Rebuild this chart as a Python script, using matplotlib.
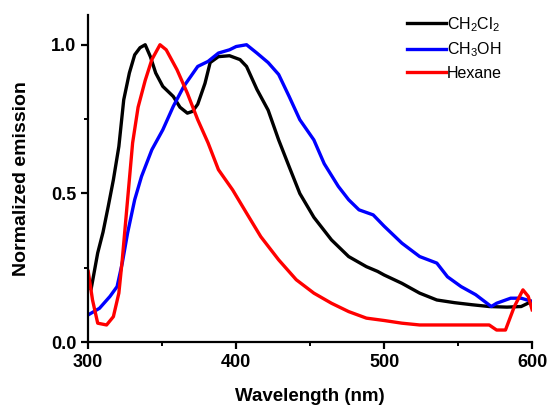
import numpy as np
import matplotlib.pyplot as plt

plt.rcParams['font.family'] = ['Liberation Sans', 'DejaVu Sans']
plt.rcParams['mathtext.default'] = 'regular'

# CH2Cl2
x_dcm = [302, 306.4, 310, 313.5, 317, 320.7, 324, 327.8, 331.4, 335, 338.5, 342, 345.6, 350.4,
         357.5, 362, 367, 370.5, 374, 378.9, 382.4, 388, 395.5, 402.6, 407, 414, 421.6, 428.7,
         435.8, 443, 452.5, 464.4, 476, 488, 495.6, 500, 512, 524, 535.6, 547.5, 559.4, 571,
         583, 592.6, 599.7]
y_dcm = [0.18, 0.30, 0.37, 0.456, 0.546, 0.658, 0.815, 0.905, 0.966, 0.99, 1.0, 0.96, 0.905, 0.86,
         0.826, 0.79, 0.77, 0.776, 0.80, 0.87, 0.94, 0.96, 0.963, 0.95, 0.927, 0.85, 0.78, 0.68,
         0.59, 0.50, 0.42, 0.344, 0.288, 0.254, 0.238, 0.226, 0.198, 0.165, 0.142, 0.133, 0.126, 0.12,
         0.118, 0.12, 0.137]

# CH3OH
x_meoh = [300, 307.6, 314.7, 319.5, 323, 326.6, 331.4, 336, 343, 350.4, 357.5, 364.6, 374, 381,
          388, 395.5, 400, 407, 414, 421.6, 428.7, 435.8, 443, 452.5, 459.5, 469, 476, 483, 492.6,
          500, 512, 524, 535.6, 542.8, 552, 561.8, 572.4, 576, 585.5, 592.6, 600]
y_meoh = [0.092, 0.114, 0.154, 0.187, 0.266, 0.367, 0.479, 0.557, 0.647, 0.714, 0.793, 0.86, 0.927, 0.944,
          0.972, 0.983, 0.994, 1.0, 0.972, 0.94, 0.90, 0.826, 0.748, 0.68, 0.60, 0.524, 0.479, 0.445, 0.428,
          0.39, 0.333, 0.288, 0.266, 0.22, 0.187, 0.16, 0.12, 0.131, 0.148, 0.148, 0.137]

# Hexane
x_hex = [300, 302.9, 306.4, 312.4, 317, 320.7, 323, 326.6, 330, 333.7, 338.5, 343, 348.5, 352.7,
         360, 367, 374, 381, 388, 397.6, 407, 416.6, 428.7, 440.6, 452.5, 464.4, 476, 488, 500,
         512, 524, 547.5, 571, 576, 582, 588, 593.8, 597.4, 600]
y_hex = [0.238, 0.142, 0.064, 0.058, 0.086, 0.165, 0.277, 0.479, 0.67, 0.79, 0.88, 0.95, 1.0, 0.983,
         0.916, 0.837, 0.748, 0.67, 0.58, 0.512, 0.434, 0.355, 0.277, 0.21, 0.165, 0.131, 0.103, 0.081, 0.073,
         0.064, 0.058, 0.058, 0.058, 0.041, 0.041, 0.12, 0.176, 0.154, 0.109]

fig = plt.figure(figsize=(5.48, 4.05), dpi=100)
ax = fig.add_axes([0.161, 0.155, 0.810, 0.808])

ax.plot(x_dcm, y_dcm, color='black', lw=2.4, label='CH$_2$Cl$_2$')
ax.plot(x_meoh, y_meoh, color='blue', lw=2.4, label='CH$_3$OH')
ax.plot(x_hex, y_hex, color='red', lw=2.4, label='Hexane')

ax.set_xlim(300, 600)
ax.set_ylim(0, 1.1)
ax.set_xticks([300, 400, 500, 600])
ax.set_xticks([350, 450, 550], minor=True)
ax.set_yticks([0.0, 0.5, 1.0])
ax.set_yticks([0.25, 0.75], minor=True)
ax.spines['top'].set_visible(False)
ax.spines['right'].set_visible(False)
ax.spines['left'].set_linewidth(1.6)
ax.spines['bottom'].set_linewidth(1.6)
ax.tick_params(which='major', direction='out', length=5, width=1.6, labelsize=13)
ax.tick_params(which='minor', direction='out', length=3, width=1.4)
for lab in ax.get_xticklabels() + ax.get_yticklabels():
    lab.set_fontweight('bold')

ax.set_xlabel('Wavelength (nm)', fontsize=13.5, fontweight='bold', labelpad=12)
ax.set_ylabel('Normalized emission', fontsize=14, fontweight='bold', labelpad=15)

ax.legend(loc='upper left', bbox_to_anchor=(0.719, 1.0), frameon=False, fontsize=11.5,
          handlelength=2.4, handletextpad=0.05, borderaxespad=0, borderpad=0,
          labelspacing=0.42)

plt.savefig('out.png', dpi=100)
